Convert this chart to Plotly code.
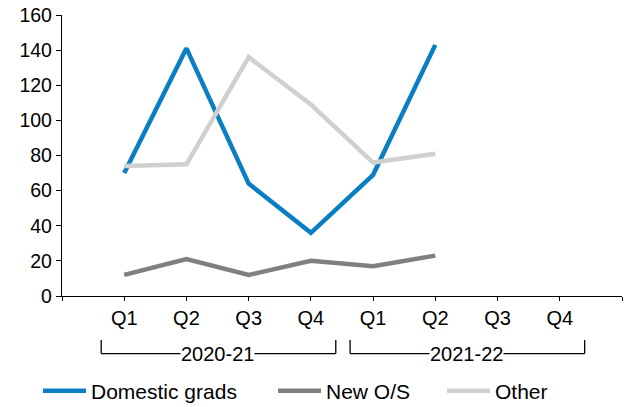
import plotly.graph_objects as go

quarters = ["Q1", "Q2", "Q3", "Q4", "Q1", "Q2", "Q3", "Q4"]
years = ["2020-21", "2021-22"]
domestic = [70, 141, 64, 36, 69, 143, None, None]
new_os = [12, 21, 12, 20, 17, 23, None, None]
other = [74, 75, 136, 109, 76, 81, None, None]

names = ["Domestic grads", "New O/S", "Other"]
colors = ["#0A7EC2", "#808080", "#D0D0D0"]

x = list(range(len(quarters)))
FONT = dict(family="Liberation Sans, Arial, sans-serif", size=20, color="#000000")
YFONT = dict(family="Liberation Sans, Arial, sans-serif", size=19.5, color="#000000")
LFONT = dict(family="Liberation Sans, Arial, sans-serif", size=21, color="#000000")

W, H = 629, 407
L, T, R, B = 62, 15, 7, 111
pw = W - L - R

legend_ids = ["legend", "legend2", "legend3"]
legend_px = [38, 273, 442]

fig = go.Figure()
for name, vals, col, lid in zip(names, [domestic, new_os, other], colors, legend_ids):
    fig.add_trace(go.Scatter(x=x, y=vals, mode="lines", name=name, legend=lid,
                             line=dict(color=col, width=4.5),
                             connectgaps=False, hoverinfo="skip"))

tickvals = [-1] + x + [len(x)]
ticktext = [""] + quarters + [""]

legend_layout = {}
for lid, px in zip(legend_ids, legend_px):
    legend_layout[lid] = dict(orientation="h", x=(px - L) / pw, xanchor="left",
                              y=-0.338, yanchor="middle", font=LFONT, itemwidth=43,
                              bgcolor="rgba(0,0,0,0)", borderwidth=0)

fig.update_layout(
    width=W, height=H,
    margin=dict(l=L, r=R, t=T, b=B, autoexpand=False),
    paper_bgcolor="white", plot_bgcolor="white",
    font=FONT,
    showlegend=True,
    xaxis=dict(range=[-1, len(x)], tickmode="array", tickvals=tickvals, ticktext=ticktext,
               showline=True, linecolor="black", linewidth=1.3, ticks="outside",
               ticklen=4, tickcolor="black", tickwidth=1.3, showgrid=False, zeroline=False,
               tickfont=FONT, automargin=False, ticklabeloverflow="allow"),
    yaxis=dict(range=[0, 160], dtick=20, showline=True, linecolor="black", linewidth=1.3,
               ticks="outside", ticklen=5, tickcolor="black", tickwidth=1.3,
               showgrid=False, zeroline=False, tickfont=YFONT, automargin=False,
               ticklabeloverflow="allow"),
    **legend_layout,
)

# group brackets
y_top, y_bot = -0.157, -0.205
for i, yr in enumerate(years):
    left = i * 4 - 0.37
    right = i * 4 + 3.4
    for xs in (left, right):
        fig.add_shape(type="line", xref="x", yref="paper", x0=xs, x1=xs, y0=y_top, y1=y_bot,
                      line=dict(color="black", width=1.3))
    fig.add_shape(type="line", xref="x", yref="paper", x0=left, x1=right, y0=y_bot, y1=y_bot,
                  line=dict(color="black", width=1.3))
    fig.add_annotation(x=i * 4 + 1.5, xref="x", y=y_bot, yref="paper", text=yr,
                       showarrow=False, font=FONT, bgcolor="white", borderpad=0,
                       xanchor="center", yanchor="middle")

fig.write_html("out.html", config={"displayModeBar": False},
               post_script="document.body.style.margin='0';")
